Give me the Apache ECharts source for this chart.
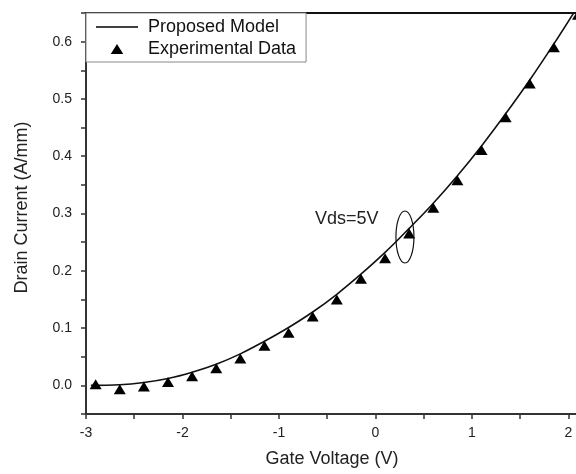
<!DOCTYPE html>
<html><head><meta charset="utf-8">
<script src="https://cdn.jsdelivr.net/npm/echarts@6/dist/echarts.min.js"></script>
<style>html,body{margin:0;padding:0;background:#fff}#c{width:576px;height:474px}</style>
</head><body><div id="c"></div>
<script>
const modelX = [-2.95, -2.65, -2.4, -2.15, -1.9, -1.65, -1.4, -1.15, -0.9, -0.65, -0.4, -0.15, 0.1, 0.35, 0.6, 0.85, 1.1, 1.35, 1.6, 1.85, 2.1];
const modelY = [0.000, 0.001, 0.005, 0.012, 0.023, 0.037, 0.055, 0.077, 0.101, 0.128, 0.159, 0.194, 0.232, 0.274, 0.318, 0.366, 0.418, 0.474, 0.533, 0.596, 0.662];
const expX = [-2.9, -2.65, -2.4, -2.15, -1.9, -1.65, -1.4, -1.15, -0.9, -0.65, -0.4, -0.15, 0.1, 0.35, 0.6, 0.85, 1.1, 1.35, 1.6, 1.85, 2.1];
const expY = [0.002, -0.007, -0.002, 0.006, 0.016, 0.030, 0.047, 0.069, 0.092, 0.120, 0.150, 0.186, 0.222, 0.265, 0.310, 0.358, 0.411, 0.468, 0.527, 0.590, 0.647];
const seriesNames = ['Proposed Model', 'Experimental Data'];
const xTitle = 'Gate Voltage (V)';
const yTitle = 'Drain Current (A/mm)';
const annotationText = 'Vds=5V';

const FONT = 'Liberation Sans, Arial, sans-serif';
const chart = echarts.init(document.getElementById('c'), null, {renderer: 'canvas'});
const axisCol = '#333';
chart.setOption({
  animation: false,
  backgroundColor: '#fff',
  grid: {left: 86, top: 13, width: 492, height: 401, containLabel: false, outerBoundsMode: 'none'},
  legend: {
    left: 86, top: 13, orient: 'vertical',
    itemWidth: 42, itemHeight: 10, itemGap: 4,
    padding: [5, 10, 4, 10],
    symbolKeepAspect: true,
    borderColor: '#888', borderWidth: 1, backgroundColor: '#fff',
    textStyle: {fontSize: 18, color: '#111', fontFamily: FONT, padding: [0, 0, 0, 5]},
    data: [
      {name: seriesNames[0], icon: 'path://M0,4.2 L42,4.2 L42,5.8 L0,5.8 Z', itemStyle: {color: '#000', borderWidth: 0, opacity: 1}},
      {name: seriesNames[1], icon: 'path://M0,8 L5,0 L10,8 Z', itemStyle: {color: '#000', borderWidth: 0, opacity: 1}}
    ]
  },
  xAxis: [{
    type: 'value', min: -3, max: 2.1, interval: 0.5,
    name: xTitle, nameLocation: 'middle', nameGap: 36,
    nameTextStyle: {fontSize: 18, color: '#222', fontFamily: FONT},
    axisLine: {onZero: false, lineStyle: {color: axisCol, width: 2}},
    axisTick: {show: true, inside: false, length: 5, lineStyle: {color: axisCol, width: 1.5}},
    axisLabel: {fontSize: 14, color: '#222', fontFamily: FONT, margin: 12,
      formatter: v => (Math.abs(v - Math.round(v)) < 1e-6 ? String(Math.round(v)) : '')},
    splitLine: {show: false}
  }, {
    type: 'value', min: -3, max: 2.1, position: 'top',
    axisLine: {onZero: false, lineStyle: {color: '#111', width: 2}},
    axisTick: {show: false}, axisLabel: {show: false}, splitLine: {show: false}
  }],
  yAxis: {
    type: 'value', min: -0.05, max: 0.65, interval: 0.05,
    name: yTitle, nameLocation: 'middle', nameGap: 55,
    nameTextStyle: {fontSize: 18, color: '#222', fontFamily: FONT, padding: [0, 0, 0, 12]},
    axisLine: {onZero: false, lineStyle: {color: axisCol, width: 2}},
    axisTick: {show: true, inside: false, length: 5, lineStyle: {color: axisCol, width: 1.5}},
    axisLabel: {fontSize: 14, color: '#222', fontFamily: FONT, margin: 14,
      formatter: v => {
        const k = Math.round(v * 100);
        if (Math.abs(v * 100 - k) > 1e-6 || k % 10 !== 0) return '';
        return v.toFixed(1);
      }},
    splitLine: {show: false}
  },
  series: [{
    name: seriesNames[0], type: 'line', symbol: 'none', smooth: 0.4,
    lineStyle: {color: '#111', width: 1.6},
    itemStyle: {color: '#111'},
    data: modelX.map((x, i) => [x, modelY[i]]),
    z: 3
  }, {
    name: seriesNames[1], type: 'scatter', symbol: 'triangle', symbolSize: [12, 10],
    itemStyle: {color: '#000', opacity: 1},
    data: expX.map((x, i) => [x, expY[i]]),
    z: 4
  }]
});

const ellC = chart.convertToPixel({xAxisIndex: 0, yAxisIndex: 0}, [0.306, 0.259]);
const txtP = chart.convertToPixel({xAxisIndex: 0, yAxisIndex: 0}, [-0.627, 0.29]);
chart.setOption({
  graphic: [{
    type: 'ellipse', shape: {cx: ellC[0], cy: ellC[1], rx: 9, ry: 26},
    style: {fill: 'none', stroke: '#111', lineWidth: 1.2}, z: 10
  }, {
    type: 'text', x: txtP[0], y: txtP[1],
    style: {text: annotationText, fill: '#222', font: '18px ' + FONT, textVerticalAlign: 'middle', textAlign: 'left'},
    z: 10
  }]
});
</script></body></html>
